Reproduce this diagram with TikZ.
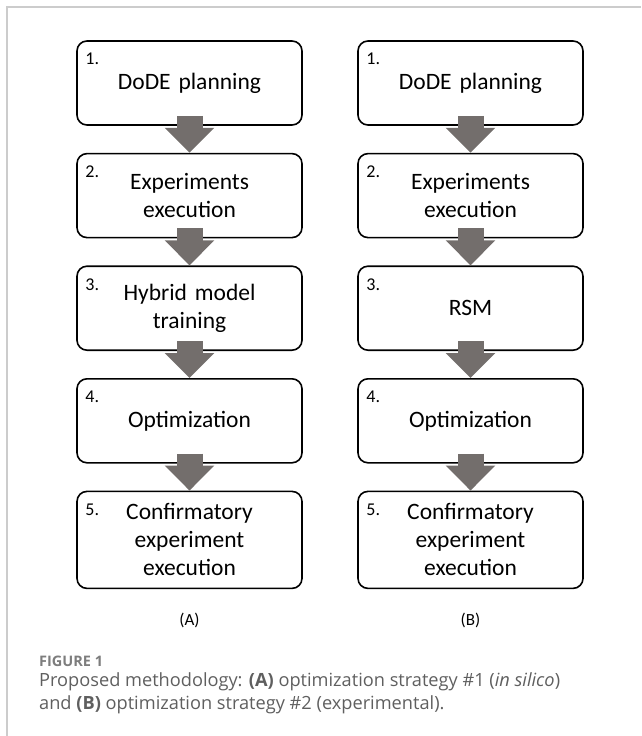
\documentclass[tikz,border=0pt]{standalone}
\usepackage{fontspec}
\setmainfont{Carlito}
\newfontfamily\capfont{Open Sans}
\usepackage{xcolor}
\usepackage{tikz}
\usetikzlibrary{arrows.meta,positioning}

\definecolor{arrowgray}{RGB}{115,110,108}
\definecolor{framegray}{RGB}{204,204,204}
\definecolor{figgray}{RGB}{125,125,125}
\definecolor{capgray}{RGB}{95,95,95}

\begin{document}
\begin{tikzpicture}[
  x=1pt, y=1pt,
  font=\fontsize{23.5}{28}\selectfont,
  node distance=27pt,
  stepbox/.style={draw, line width=1.6pt, rounded corners=10pt, minimum width=225pt, minimum height=84pt, text width=205pt, align=center, inner sep=0pt},
  numlbl/.style={anchor=north west, inner sep=0pt, font=\fontsize{18}{20}\selectfont, xshift=9pt, yshift=-13pt},
  colname/.style={font=\fontsize{17}{19}\selectfont},
  blockarrow/.style={draw=arrowgray, line width=26pt, -{Triangle[width=48pt,length=25pt]}}
]
\useasboundingbox (0,0) rectangle (641,-736);
\draw[framegray, line width=1.5pt] (7,-736) -- (7,-7) -- (641,-7);

% strategy (A)
\node[stepbox, label={[numlbl]north west:1.}] (a1) at (189.5,-83) {DoDE planning};
\node[stepbox, below=of a1, label={[numlbl]north west:2.}] (a2) {Experiments\\execution};
\node[stepbox, below=of a2, label={[numlbl]north west:3.}] (a3) {Hybrid model\\training};
\node[stepbox, below=of a3, label={[numlbl]north west:4.}] (a4) {Optimization};
\node[stepbox, below=of a4, minimum height=97pt, label={[numlbl]north west:5.}] (a5) {Confirmatory\\experiment\\execution};

% strategy (B)
\node[stepbox, label={[numlbl]north west:1.}] (b1) at (470.5,-83) {DoDE planning};
\node[stepbox, below=of b1, label={[numlbl]north west:2.}] (b2) {Experiments\\execution};
\node[stepbox, below=of b2, label={[numlbl]north west:3.}] (b3) {RSM};
\node[stepbox, below=of b3, label={[numlbl]north west:4.}] (b4) {Optimization};
\node[stepbox, below=of b4, minimum height=97pt, label={[numlbl]north west:5.}] (b5) {Confirmatory\\experiment\\execution};

\node[colname] (lblA) at (189.5,-620) {(A)};
\node[colname] (lblB) at (470.5,-620) {(B)};

\draw[blockarrow] ([yshift=10pt]a1.south) -- (a2.north);
\draw[blockarrow] ([yshift=10pt]a2.south) -- (a3.north);
\draw[blockarrow] ([yshift=10pt]a3.south) -- (a4.north);
\draw[blockarrow] ([yshift=10pt]a4.south) -- (a5.north);
\draw[blockarrow] ([yshift=10pt]b1.south) -- (b2.north);
\draw[blockarrow] ([yshift=10pt]b2.south) -- (b3.north);
\draw[blockarrow] ([yshift=10pt]b3.south) -- (b4.north);
\draw[blockarrow] ([yshift=10pt]b4.south) -- (b5.north);

% caption
\node[anchor=west, inner sep=0pt, text=figgray, font=\capfont\bfseries\fontsize{14.5}{16}\selectfont] (fig) at (39,-661) {FIGURE 1};
\node[anchor=north west, inner sep=0pt, text=capgray, align=left, font=\capfont\fontsize{18.2}{23}\selectfont] (cap) at (39,-672)
  {Proposed methodology: \textbf{(A)} optimization strategy \#1 (\textit{in silico})\\
   and \textbf{(B)} optimization strategy \#2 (experimental).};
\end{tikzpicture}
\end{document}
